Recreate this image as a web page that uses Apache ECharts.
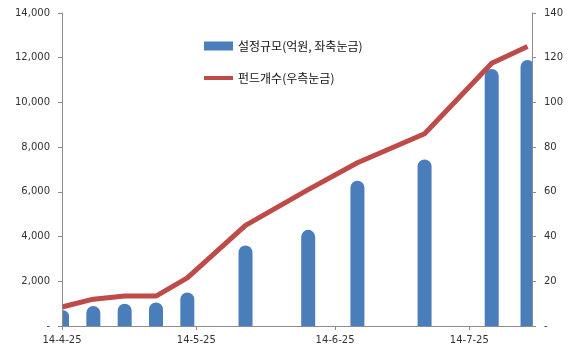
<!DOCTYPE html>
<html>
<head>
<meta charset="utf-8">
<script src="https://cdn.jsdelivr.net/npm/echarts@6/dist/echarts.min.js"></script>
<style>
  html, body { margin: 0; padding: 0; background: #fff; }
  #chart { width: 577px; height: 355px; }
</style>
</head>
<body>
<div id="chart"></div>
<script>
// 기간 (축 시작 / 끝)
var axisStart = '2014-04-25';
var axisEnd = '2014-08-08';

// 관측일
var dates = ['2014-04-25', '2014-05-02', '2014-05-09', '2014-05-16', '2014-05-23',
  '2014-06-05', '2014-06-19', '2014-06-30', '2014-07-15', '2014-07-30', '2014-08-07'];
// 설정규모 (억원, 좌축)
var sizes = [700, 900, 1000, 1050, 1500, 3600, 4300, 6500, 7450, 11500, 11900];
// 펀드개수 (우축)
var counts = [8.5, 12, 13.4, 13.4, 21.5, 45, 61, 73, 86, 117.5, 125];

var seriesNames = ['설정규모(억원, 좌축눈금)', '펀드개수(우측눈금)'];

function fmtDay(d) {
  return String(d.getFullYear()).slice(2) + '-' + (d.getMonth() + 1) + '-' + d.getDate();
}

// 일 단위 카테고리 만들기
var days = [];
var d = new Date(axisStart + 'T00:00:00');
var last = new Date(axisEnd + 'T00:00:00');
while (d <= last) {
  days.push(fmtDay(d));
  d.setDate(d.getDate() + 1);
}

var sizeData = days.map(function () { return null; });
var countData = days.map(function () { return null; });
dates.forEach(function (s, i) {
  var idx = days.indexOf(fmtDay(new Date(s + 'T00:00:00')));
  sizeData[idx] = sizes[i];
  countData[idx] = counts[i];
});

function isMark(idx, val) {
  return /-25$/.test(val);
}

function numFmt(v) {
  return v === 0 ? '-' : v.toLocaleString('en-US');
}

var W = 577, H = 355;
var grid = { left: 62, right: 45, top: 13, bottom: 29 };
var axisFont = { fontFamily: 'DejaVu Sans', fontSize: 10, color: '#333' };

// 막대가 축 밖으로 나가는 부분 가리기 (엑셀처럼 잘려 보이게)
var masks = [
  { type: 'rect', z: 5, silent: true,
    shape: { x: grid.left - 10, y: grid.top, width: 10, height: H - grid.top - grid.bottom },
    style: { fill: '#fff' } },
  { type: 'rect', z: 5, silent: true,
    shape: { x: W - grid.right, y: grid.top, width: 10, height: H - grid.top - grid.bottom },
    style: { fill: '#fff' } }
];

var chart = echarts.init(document.getElementById('chart'));
chart.setOption({
  animation: false,
  grid: grid,
  graphic: masks,
  legend: [{
    data: [seriesNames[0]],
    left: 199, top: 35,
    icon: 'rect', itemWidth: 29, itemHeight: 9, itemGap: 2,
    textStyle: { fontFamily: 'Noto Sans CJK KR', fontSize: 12, color: '#111' }
  }, {
    data: [seriesNames[1]],
    left: 199, top: 67,
    icon: 'rect', itemWidth: 29, itemHeight: 4,
    textStyle: { fontFamily: 'Noto Sans CJK KR', fontSize: 12, color: '#111' }
  }],
  xAxis: {
    type: 'category',
    data: days,
    boundaryGap: false,
    z: 10,
    axisLine: { lineStyle: { color: '#8c8c8c' } },
    axisTick: { interval: isMark, length: 4, lineStyle: { color: '#8c8c8c' } },
    axisLabel: Object.assign({ interval: isMark, margin: 9 }, axisFont),
    splitLine: { show: false }
  },
  yAxis: [{
    type: 'value', min: 0, max: 14000, interval: 2000,
    z: 10,
    axisLine: { show: true, lineStyle: { color: '#8c8c8c' } },
    axisTick: { show: true, length: 4, lineStyle: { color: '#8c8c8c' } },
    axisLabel: Object.assign({ formatter: numFmt, margin: 12 }, axisFont),
    splitLine: { show: false }
  }, {
    type: 'value', min: 0, max: 140, interval: 20,
    z: 10,
    axisLine: { show: true, lineStyle: { color: '#8c8c8c' } },
    axisTick: { show: true, length: 4, lineStyle: { color: '#8c8c8c' } },
    axisLabel: Object.assign({ formatter: numFmt, margin: 12 }, axisFont),
    splitLine: { show: false }
  }],
  series: [{
    name: seriesNames[0],
    type: 'bar',
    yAxisIndex: 0,
    data: sizeData,
    barWidth: 14,
    barGap: '-100%',
    itemStyle: { color: '#4a7ebb', borderRadius: [7, 7, 0, 0] }
  }, {
    name: seriesNames[1],
    type: 'line',
    yAxisIndex: 1,
    data: countData,
    connectNulls: true,
    showSymbol: false,
    symbol: 'none',
    itemStyle: { color: '#be4b48' },
    lineStyle: { color: '#be4b48', width: 5 }
  }]
});
</script>
</body>
</html>
